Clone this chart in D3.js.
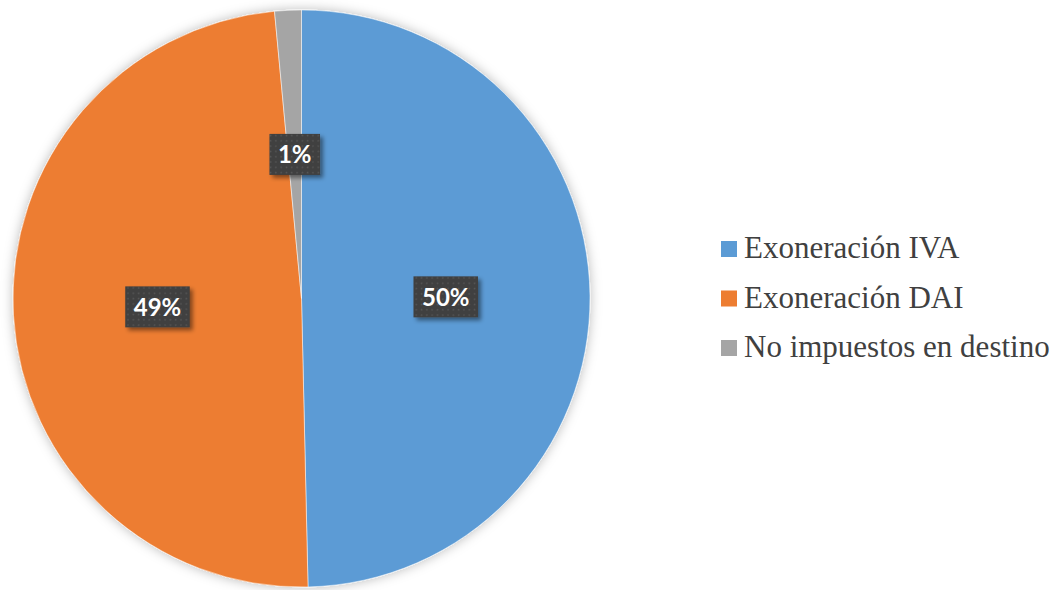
<!DOCTYPE html>
<html>
<head>
<meta charset="utf-8">
<script src="https://cdn.jsdelivr.net/npm/d3@7"></script>
<style>
  html, body { margin: 0; padding: 0; background: #ffffff; }
  svg { display: block; }
</style>
</head>
<body>
<svg id="chart" width="1062" height="590"></svg>
<script>
// Distribution of exemptions by type (share of total, %)
const categories = ["Exoneración IVA", "Exoneración DAI", "No impuestos en destino"];
const values = [49.64, 48.87, 1.49];
const colors = ["#5B9BD5", "#ED7D31", "#A5A5A5"];

const width = 1062, height = 590;
const cx = 301.5, cy = 298.5, radius = 288.5;

const svg = d3.select("#chart");
const defs = svg.append("defs");

// soft glow around the pie
const glow = defs.append("filter").attr("id", "pieGlow")
  .attr("x", "-10%").attr("y", "-10%").attr("width", "120%").attr("height", "120%");
glow.append("feDropShadow").attr("dx", 0).attr("dy", 0)
  .attr("stdDeviation", 6).attr("flood-color", "#000").attr("flood-opacity", 0.28);

// shadow for data label boxes
const boxShadow = defs.append("filter").attr("id", "boxShadow")
  .attr("x", "-30%").attr("y", "-30%").attr("width", "170%").attr("height", "170%");
boxShadow.append("feDropShadow").attr("dx", 3).attr("dy", 3)
  .attr("stdDeviation", 2.2).attr("flood-color", "#000").attr("flood-opacity", 0.45);

// dotted texture for data label boxes
const pat = defs.append("pattern").attr("id", "dots")
  .attr("width", 5.3).attr("height", 5.3).attr("patternUnits", "userSpaceOnUse");
pat.append("rect").attr("width", 5.3).attr("height", 5.3).attr("fill", "#3f3f3f");
pat.append("rect").attr("x", 1.5).attr("y", 1.5).attr("width", 1.6).attr("height", 1.6)
  .attr("fill", "#575757");

const color = d3.scaleOrdinal().domain(categories).range(colors);

const pie = d3.pie().sort(null).value(d => d.value);
const data = categories.map((c, i) => ({ name: c, value: values[i] }));
const arcs = pie(data);
const total = d3.sum(values);

const arc = d3.arc().innerRadius(0).outerRadius(radius);

const g = svg.append("g").attr("transform", `translate(${cx},${cy})`);

g.append("g").attr("filter", "url(#pieGlow)")
  .selectAll("path")
  .data(arcs)
  .join("path")
  .attr("d", arc)
  .attr("fill", d => color(d.data.name))
  .attr("stroke", "#ffffff")
  .attr("stroke-width", 0.5);

// data labels
const fmt = d3.format(".0%");
const labels = g.append("g").selectAll("g")
  .data(arcs)
  .join("g")
  .attr("transform", d => `translate(${arc.centroid(d)})`);

labels.each(function(d) {
  const sel = d3.select(this);
  const txt = fmt(d.data.value / total);
  const t = sel.append("text")
    .attr("text-anchor", "middle")
    .attr("dy", "0.36em")
    .attr("font-family", "Lato, 'Open Sans', sans-serif")
    .attr("font-weight", 700)
    .attr("font-size", 24)
    .attr("fill", "#ffffff")
    .text(txt);
  const bb = t.node().getBBox();
  const padX = 8.5, h = 41;
  sel.insert("rect", "text")
    .attr("x", bb.x - padX)
    .attr("y", -h / 2)
    .attr("width", bb.width + 2 * padX)
    .attr("height", h)
    .attr("fill", "url(#dots)")
    .attr("filter", "url(#boxShadow)");
});

// legend
const legend = svg.append("g").attr("transform", "translate(721,258)");
const rows = legend.selectAll("g")
  .data(categories)
  .join("g")
  .attr("transform", (d, i) => `translate(0,${i * 49.5})`);

rows.append("rect")
  .attr("x", 0).attr("y", -17)
  .attr("width", 16).attr("height", 16)
  .attr("fill", d => color(d));

rows.append("text")
  .attr("x", 23).attr("y", 0)
  .attr("font-family", "'Liberation Serif', 'Times New Roman', serif")
  .attr("font-size", 31)
  .attr("fill", "#404040")
  .text(d => d);
</script>
</body>
</html>
